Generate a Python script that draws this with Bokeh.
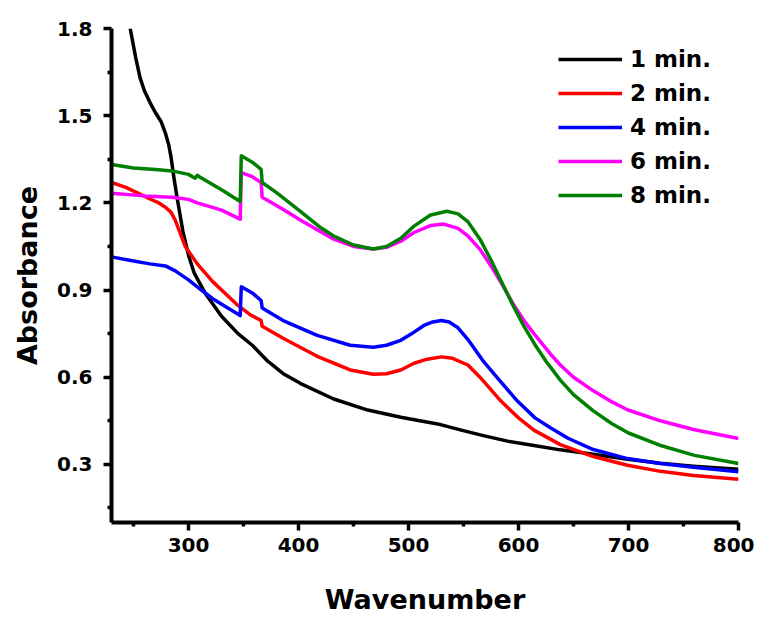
from bokeh.plotting import figure
from bokeh.models import Range1d, Legend, LegendItem, FixedTicker, PrintfTickFormatter
from bokeh.embed import file_html
from bokeh.resources import INLINE

series_labels = ["1 min.", "2 min.", "4 min.", "6 min.", "8 min."]
series_colors = ["#000000", "#ff0000", "#0000ff", "#ff00ff", "#007f00"]

wl_1 = [247, 252, 256, 260, 265, 270, 275, 279, 282, 284, 287, 290, 295, 300, 305, 315, 330, 345, 358, 372,
        387, 402, 432, 463, 493, 529, 548, 568, 590, 614, 638, 668, 699, 729, 759, 800]
abs_1 = [1.80, 1.70, 1.63, 1.585, 1.545, 1.51, 1.48, 1.44, 1.40, 1.36, 1.28, 1.21, 1.10, 1.02, 0.96, 0.89,
         0.81, 0.75, 0.71, 0.655, 0.61, 0.578, 0.525, 0.487, 0.462, 0.437, 0.418, 0.399, 0.38, 0.365,
         0.35, 0.335, 0.318, 0.304, 0.294, 0.283]

wl_2 = [230, 243, 255, 264, 272, 279, 284, 288, 292, 297, 308, 322, 345, 356, 366, 367, 386, 417, 447, 468,
        480, 493, 505, 517, 530, 540, 554, 565, 584, 600, 614, 638, 668, 699, 729, 759, 800]
abs_2 = [1.27, 1.253, 1.232, 1.215, 1.202, 1.185, 1.168, 1.14, 1.10, 1.05, 0.99, 0.929, 0.847, 0.815,
         0.795, 0.775, 0.734, 0.672, 0.625, 0.61, 0.612, 0.625, 0.648, 0.662, 0.670, 0.665, 0.642, 0.600,
         0.518, 0.46, 0.418, 0.368, 0.327, 0.297, 0.276, 0.262, 0.249]

wl_4 = [230, 250, 265, 279, 288, 300, 310, 322, 335, 347, 348, 358, 366, 367, 386, 417, 447, 468, 480,
        493, 505, 514, 522, 530, 537, 545, 555, 568, 581, 599, 615, 629, 645, 668, 699, 729, 759, 800]
abs_4 = [1.014, 1.0, 0.99, 0.983, 0.966, 0.935, 0.905, 0.87, 0.84, 0.812, 0.911, 0.89, 0.864, 0.838,
         0.795, 0.744, 0.71, 0.703, 0.71, 0.727, 0.755, 0.778, 0.79, 0.795, 0.79, 0.77, 0.725, 0.655,
         0.597, 0.518, 0.46, 0.426, 0.39, 0.351, 0.32, 0.303, 0.29, 0.275]

wl_6 = [230, 260, 285, 300, 308, 330, 347, 348, 358, 366, 367, 385, 402, 432, 450, 468, 480, 493, 505,
        520, 532, 545, 554, 565, 575, 585, 595, 605, 614, 629, 638, 650, 668, 685, 699, 729, 759, 800]
abs_6 = [1.233, 1.224, 1.219, 1.212, 1.20, 1.175, 1.144, 1.304, 1.29, 1.27, 1.219, 1.18, 1.14, 1.075,
         1.05, 1.041, 1.047, 1.068, 1.098, 1.122, 1.127, 1.112, 1.086, 1.04, 0.983, 0.92, 0.853, 0.795,
         0.75, 0.68, 0.642, 0.60, 0.553, 0.515, 0.488, 0.45, 0.42, 0.389]

wl_8 = [230, 250, 270, 285, 300, 306, 308, 311, 330, 347, 348, 358, 366, 367, 380, 402, 420, 432, 450,
        468, 480, 493, 505, 520, 535, 545, 554, 565, 575, 585, 595, 605, 615, 625, 638, 650, 668, 685,
        700, 730, 760, 800]
abs_8 = [1.332, 1.32, 1.315, 1.31, 1.298, 1.285, 1.295, 1.287, 1.245, 1.205, 1.362, 1.34, 1.315, 1.27,
         1.235, 1.17, 1.115, 1.086, 1.055, 1.041, 1.05, 1.078, 1.12, 1.158, 1.171, 1.162, 1.135, 1.075,
         1.003, 0.925, 0.847, 0.775, 0.712, 0.655, 0.59, 0.54, 0.484, 0.44, 0.408, 0.364, 0.331, 0.303]

x_major = [300, 400, 500, 600, 700, 800]
x_minor = [250, 350, 450, 550, 650, 750]
y_major = [0.3, 0.6, 0.9, 1.2, 1.5, 1.8]
y_minor = [0.15, 0.45, 0.75, 1.05, 1.35, 1.65]

FONT = "DejaVu Sans"

p = figure(width=754, height=617, output_backend="svg", toolbar_location=None,
           x_range=Range1d(230, 800), y_range=Range1d(0.1, 1.8),
           min_border_left=111, min_border_right=16, min_border_top=28, min_border_bottom=92)
p.outline_line_color = None
p.grid.visible = False
p.background_fill_color = "white"
p.border_fill_color = "white"

data = [(wl_1, abs_1), (wl_2, abs_2), (wl_4, abs_4), (wl_6, abs_6), (wl_8, abs_8)]
items = []
for (xs, ys), lab, col in zip(data, series_labels, series_colors):
    r = p.line(xs, ys, line_color=col, line_width=3.5, line_join="round")
    items.append(LegendItem(label=lab, renderers=[r]))

legend = Legend(items=items, location=(447, 314), border_line_color=None,
                background_fill_alpha=0, padding=0, margin=0, spacing=8,
                glyph_width=64, glyph_height=26, label_height=26, label_standoff=8,
                label_text_font=FONT, label_text_font_style="bold", label_text_font_size="23px",
                label_text_color="black")
p.add_layout(legend)

p.xaxis.ticker = FixedTicker(ticks=x_major, minor_ticks=x_minor)
p.yaxis.ticker = FixedTicker(ticks=y_major, minor_ticks=y_minor)
p.yaxis.formatter = PrintfTickFormatter(format="%.1f")

for ax in (p.xaxis[0], p.yaxis[0]):
    ax.axis_line_width = 4
    ax.axis_line_color = "black"
    ax.major_tick_line_width = 3.5
    ax.minor_tick_line_width = 3.5
    ax.major_tick_out = 8
    ax.major_tick_in = 0
    ax.minor_tick_out = 4
    ax.minor_tick_in = 0
    ax.major_label_text_font = FONT
    ax.major_label_text_font_style = "bold"
    ax.major_label_text_font_size = "20px"
    ax.major_label_text_color = "black"
    ax.axis_label_text_font = FONT
    ax.axis_label_text_font_style = "bold"
    ax.axis_label_text_font_size = "27px"
    ax.axis_label_text_color = "black"

p.xaxis.axis_label = "Wavenumber"
p.yaxis.axis_label = "Absorbance"
p.xaxis.major_label_standoff = 7
p.yaxis.major_label_standoff = 11
p.xaxis.axis_label_standoff = 29
p.yaxis.axis_label_standoff = 11

open("out.html", "w").write(file_html(p, INLINE))
